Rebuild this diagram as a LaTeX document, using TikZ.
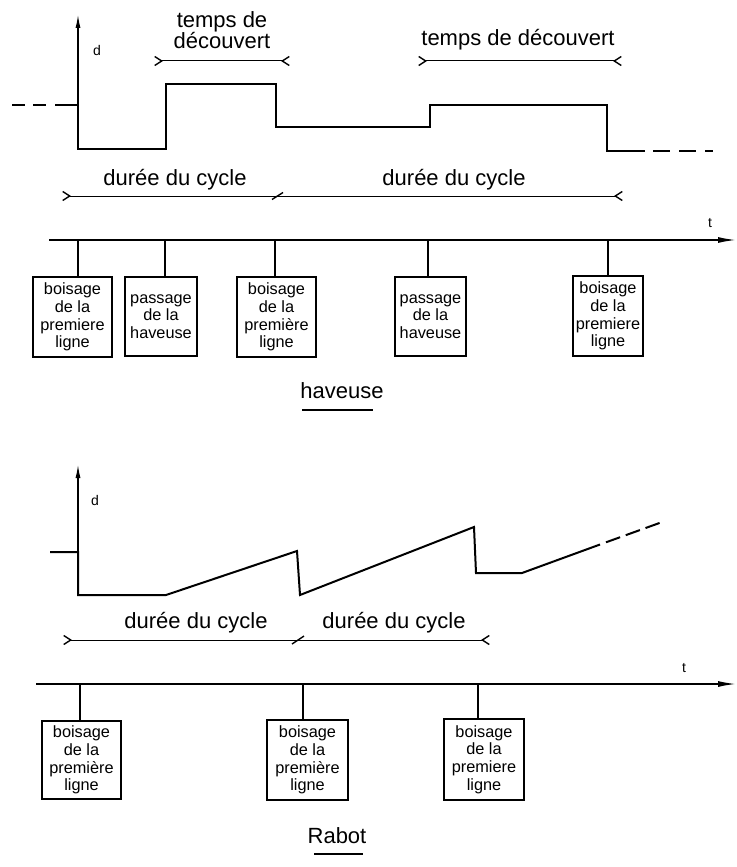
\documentclass[tikz,border=0pt]{standalone}
\usepackage{fontspec}
\setmainfont{Liberation Sans}
\usetikzlibrary{arrows.meta}
\tikzset{
  sig/.style={line width=2pt, line join=miter, line cap=butt},
  axisline/.style={line width=1.5pt},
  stem/.style={line width=1.5pt},
  dimline/.style={line width=1pt},
  barbs/.style={{Straight Barb[reversed,length=7pt,width=9pt,line width=1.4pt]}-{Straight Barb[reversed,length=7pt,width=9pt,line width=1.4pt]}},
  barbstart/.style={{Straight Barb[reversed,length=7pt,width=9pt,line width=1.4pt]}-},
  barbend/.style={-{Straight Barb[reversed,length=7pt,width=9pt,line width=1.4pt]}},
  tickmark/.style={line width=1.4pt},
  boxnode/.style={draw, line width=1.3pt, align=center, inner sep=0pt,
    font=\fontsize{16.3}{17.7}\selectfont},
  lbl/.style={font=\fontsize{22}{21}\selectfont, align=center, inner sep=0pt},
  small/.style={font=\fontsize{14}{15}\selectfont, inner sep=0pt},
}
\begin{document}
\begin{tikzpicture}[x=1pt,y=-1pt]
\useasboundingbox[fill=white] (0,0) rectangle (736,867);

% ================= TOP (haveuse) =================
\coordinate (va0) at (78,149);
\coordinate (va1) at (78,14);
\draw[axisline,-{Latex[length=14pt,width=5pt]}] (va0) -- (va1);
\node[small] (d1) at (97,50) {d};

\coordinate (p0) at (12,105);
\coordinate (p1) at (52,105);
\draw[sig, dash pattern=on 13pt off 8pt] (p0) -- (p1);
\coordinate (q0) at (55,105);
\coordinate (q1) at (78,105);
\coordinate (q2) at (78,149);
\coordinate (q3) at (166,149);
\coordinate (q4) at (166,84);
\coordinate (q5) at (276,84);
\coordinate (q6) at (276,127);
\coordinate (q7) at (430,127);
\coordinate (q8) at (430,105);
\coordinate (q9) at (607,105);
\coordinate (q10) at (607,151);
\coordinate (q11) at (645,151);
\draw[sig] (q0) -- (q1) -- (q2) -- (q3) -- (q4) -- (q5) -- (q6) -- (q7) -- (q8) -- (q9) -- (q10) -- (q11);
\coordinate (r0) at (653,151);
\coordinate (r1) at (713,151);
\draw[sig, dash pattern=on 17pt off 9pt] (r0) -- (r1);

\node[lbl] (td1) at (222,30) {temps de\\découvert};
\coordinate (td1a) at (154,61);
\coordinate (td1b) at (290,61);
\draw[dimline,barbs] (td1a) -- (td1b);
\node[lbl] (td2) at (518,40) {temps de découvert};
\coordinate (td2a) at (418,61);
\coordinate (td2b) at (622,61);
\draw[dimline,barbs] (td2a) -- (td2b);

\node[lbl] (dc1) at (175,180) {durée du cycle};
\node[lbl] (dc2) at (454,180) {durée du cycle};
\coordinate (dca) at (62,196);
\coordinate (dcm) at (277,196);
\coordinate (dcb) at (623,196);
\draw[dimline,barbstart] (dca) -- (dcm);
\draw[dimline,barbend] (dcm) -- (dcb);
\coordinate (tk1a) at (272,199.5);
\coordinate (tk1b) at (283,192.5);
\draw[tickmark] (tk1a) -- (tk1b);

\coordinate (ta0) at (49,240);
\coordinate (ta1) at (736,240);
\draw[axisline,-{Latex[length=18pt,width=6pt]}] (ta0) -- (ta1);
\node[small] (t1) at (710,223) {t};

\node[boxnode, minimum width=79pt, minimum height=80pt] (b1) at (72.5,317) {boisage\\de la\\premiere\\ligne};
\node[boxnode, minimum width=72pt, minimum height=79pt] (b2) at (161,316.5) {passage\\de la\\haveuse};
\node[boxnode, minimum width=79pt, minimum height=80pt] (b3) at (276.5,317) {boisage\\de la\\première\\ligne};
\node[boxnode, minimum width=71pt, minimum height=79pt] (b4) at (430.5,316.5) {passage\\de la\\haveuse};
\node[boxnode, minimum width=70pt, minimum height=80pt] (b5) at (608,316) {boisage\\de la\\premiere\\ligne};
\coordinate (s1) at (78,240);
\coordinate (s2) at (165,240);
\coordinate (s3) at (275,240);
\coordinate (s4) at (428,240);
\coordinate (s5) at (608,240);
\draw[stem] (s1) -- (s1 |- b1.north);
\draw[stem] (s2) -- (s2 |- b2.north);
\draw[stem] (s3) -- (s3 |- b3.north);
\draw[stem] (s4) -- (s4 |- b4.north);
\draw[stem] (s5) -- (s5 |- b5.north);

\node[lbl] (hav) at (342,391) {haveuse};
\coordinate (hu0) at (302,410);
\coordinate (hu1) at (373,410);
\draw[line width=1.3pt] (hu0) -- (hu1);

% ================= BOTTOM (Rabot) =================
\coordinate (vb0) at (78,595);
\coordinate (vb1) at (78,464);
\draw[axisline,-{Latex[length=14pt,width=5pt]}] (vb0) -- (vb1);
\node[small] (d2) at (95,500) {d};

\coordinate (w0) at (50,552);
\coordinate (w1) at (78,552);
\coordinate (w2) at (78,595);
\coordinate (w3) at (166,595);
\coordinate (w4) at (297,551);
\coordinate (w5) at (300,595);
\coordinate (w6) at (474,527);
\coordinate (w7) at (476,573);
\coordinate (w8) at (522,573);
\coordinate (w9) at (600,544.5);
\draw[sig] (w0) -- (w1) -- (w2) -- (w3) -- (w4) -- (w5) -- (w6) -- (w7) -- (w8) -- (w9);
\coordinate (x0) at (606,542.3);
\coordinate (x1) at (665,521);
\draw[sig, dash pattern=on 15pt off 6pt] (x0) -- (x1);

\node[lbl] (dc3) at (196,623) {durée du cycle};
\node[lbl] (dc4) at (394,623) {durée du cycle};
\coordinate (dda) at (63,640);
\coordinate (ddm) at (298,640);
\coordinate (ddb) at (490,640);
\draw[dimline,barbstart] (dda) -- (ddm);
\draw[dimline,barbend] (ddm) -- (ddb);
\coordinate (tk2a) at (292,644);
\coordinate (tk2b) at (304,636);
\draw[tickmark] (tk2a) -- (tk2b);

\coordinate (tb0) at (36,684);
\coordinate (tb1) at (736,684);
\draw[axisline,-{Latex[length=18pt,width=6pt]}] (tb0) -- (tb1);
\node[small] (t2) at (684,668) {t};

\node[boxnode, minimum width=79pt, minimum height=78pt] (c1) at (81.5,760) {boisage\\de la\\première\\ligne};
\node[boxnode, minimum width=81pt, minimum height=80pt] (c2) at (307.5,760) {boisage\\de la\\première\\ligne};
\node[boxnode, minimum width=80pt, minimum height=81pt] (c3) at (484,759.5) {boisage\\de la\\premiere\\ligne};
\coordinate (u1) at (80,684);
\coordinate (u2) at (303,684);
\coordinate (u3) at (478,684);
\draw[stem] (u1) -- (u1 |- c1.north);
\draw[stem] (u2) -- (u2 |- c2.north);
\draw[stem] (u3) -- (u3 |- c3.north);

\node[lbl] (rab) at (337,836) {Rabot};
\coordinate (ru0) at (314,854);
\coordinate (ru1) at (363,854);
\draw[line width=1.3pt] (ru0) -- (ru1);
\end{tikzpicture}
\end{document}
